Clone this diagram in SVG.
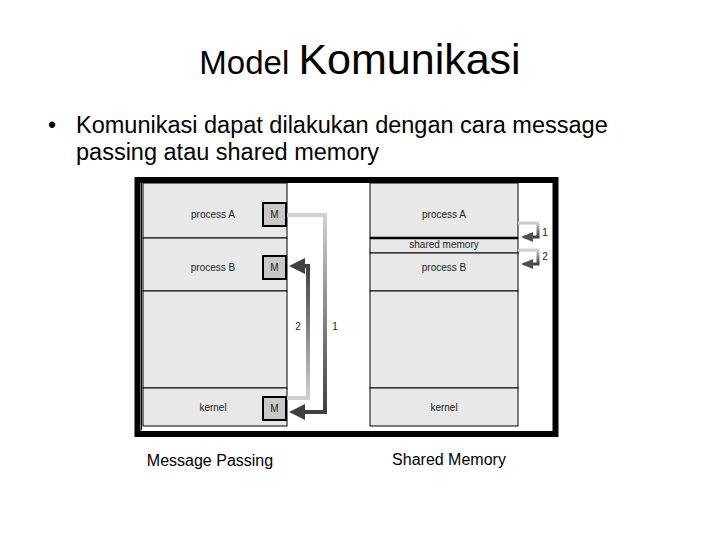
<svg xmlns="http://www.w3.org/2000/svg" width="720" height="540" viewBox="0 0 720 540">
<style>
text{font-family:"Liberation Sans",Arial,sans-serif;fill:#000}
.cell{fill:#e8e8e8;stroke:#000;stroke-width:1}
.m{fill:#c8c8c8;stroke:#000;stroke-width:2}
.s{font-size:10px;fill:#222}
</style>
<defs>
<linearGradient id="g1" x1="0" y1="0" x2="0" y2="1"><stop offset="0" stop-color="#d0d0d0"/><stop offset="1" stop-color="#404040"/></linearGradient>
<linearGradient id="g2" x1="0" y1="1" x2="0" y2="0"><stop offset="0" stop-color="#d0d0d0"/><stop offset="1" stop-color="#404040"/></linearGradient>
<marker id="ah" markerWidth="4" markerHeight="4" refX="3" refY="2" orient="auto" markerUnits="strokeWidth"><path d="M0,0L4,2L0,4z" fill="#404040"/></marker>
<marker id="ah2" markerWidth="4" markerHeight="4" refX="3" refY="2" orient="auto" markerUnits="strokeWidth"><path d="M0,0.3L4,2L0,3.7z" fill="#505050"/></marker>
</defs>
<text x="360" y="74" text-anchor="middle"><tspan font-size="33">Model </tspan><tspan font-size="43">Komunikasi</tspan></text>
<text x="48" y="133" font-size="23">•</text>
<text x="76" y="133" font-size="23.5">Komunikasi dapat dilakukan dengan cara message</text>
<text x="76" y="160" font-size="23.5">passing atau shared memory</text>
<g id="frame"><rect x="137.5" y="180" width="418" height="254" fill="#fff" stroke="#000" stroke-width="6"/><line x1="141.5" y1="183" x2="141.5" y2="430" stroke="#000" stroke-width="1"/></g>
<g id="left">
<rect class="cell" x="143" y="183" width="144" height="55"/>
<rect class="cell" x="143" y="238" width="144" height="53"/>
<rect class="cell" x="143" y="291" width="144" height="97"/>
<rect class="cell" x="143" y="388" width="144" height="38"/>
<text class="s" x="213" y="218" text-anchor="middle">process A</text>
<text class="s" x="213" y="271" text-anchor="middle">process B</text>
<text class="s" x="213" y="411" text-anchor="middle">kernel</text>
<g id="mA"><rect class="m" x="263" y="203" width="23" height="23"/><text class="s" x="274.5" y="218" text-anchor="middle">M</text></g>
<g id="mB"><rect class="m" x="263" y="256" width="23" height="23"/><text class="s" x="274.5" y="271" text-anchor="middle">M</text></g>
<g id="mK"><rect class="m" x="263" y="397" width="23" height="23"/><text class="s" x="274.5" y="412" text-anchor="middle">M</text></g>
</g>
<g id="right">
<rect class="cell" x="370" y="183" width="148" height="55"/>
<rect class="cell" x="370" y="238" width="148" height="15"/>
<rect class="cell" x="370" y="253" width="148" height="38"/>
<rect class="cell" x="370" y="291" width="148" height="97"/>
<rect class="cell" x="370" y="388" width="148" height="38"/>
<line x1="370" y1="238" x2="518" y2="238" stroke="#000" stroke-width="2.5"/>
<text class="s" x="444" y="218" text-anchor="middle">process A</text>
<text class="s" x="444" y="248" text-anchor="middle">shared memory</text>
<text class="s" x="444" y="271" text-anchor="middle">process B</text>
<text class="s" x="444" y="411" text-anchor="middle">kernel</text>
</g>
<g id="connectors" fill="none">
<path d="M287,215H325V412H293" stroke="url(#g1)" stroke-width="4" marker-end="url(#ah)"/>
<path d="M287,398H308V266H293" stroke="url(#g2)" stroke-width="4" marker-end="url(#ah)"/>
<path d="M518,223H538V237H524" stroke="url(#g1)" stroke-width="3" marker-end="url(#ah2)"/>
<path d="M518,250H538V264H524" stroke="url(#g1)" stroke-width="3" marker-end="url(#ah2)"/>
</g>
<text class="s" x="298" y="330" text-anchor="middle">2</text>
<text class="s" x="335" y="330" text-anchor="middle">1</text>
<text class="s" x="545" y="236" text-anchor="middle">1</text>
<text class="s" x="545" y="260" text-anchor="middle">2</text>
<text x="210" y="466" font-size="16" text-anchor="middle">Message Passing</text>
<text x="449" y="465" font-size="16" text-anchor="middle">Shared Memory</text>
</svg>
